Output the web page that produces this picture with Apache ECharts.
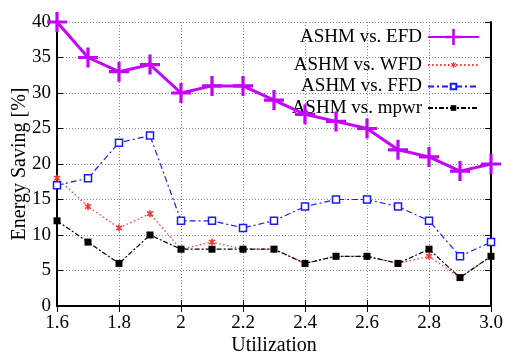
<!DOCTYPE html>
<html>
<head>
<meta charset="utf-8">
<script src="https://cdn.jsdelivr.net/npm/echarts@6/dist/echarts.min.js"></script>
<style>
  html, body { margin: 0; padding: 0; background: #fff; }
  #chart { width: 505px; height: 355px; }
</style>
</head>
<body>
<div id="chart"></div>
<script>
"use strict";

// data
const utilization = [1.6, 1.7, 1.8, 1.9, 2.0, 2.1, 2.2, 2.3, 2.4, 2.5, 2.6, 2.7, 2.8, 2.9, 3.0];
const efd  = [40, 35, 33, 34, 30, 31, 31, 29, 27, 26, 25, 22, 21, 19, 20];
const wfd  = [18, 14, 11, 13, 8, 9, 8, 8, 6, 7, 7, 6, 7, 4, 7];
const ffd  = [17, 18, 23, 24, 12, 12, 11, 12, 14, 15, 15, 14, 12, 7, 9];
const mpwr = [12, 9, 6, 10, 8, 8, 8, 8, 6, 7, 7, 6, 8, 4, 7];
const xTickLabels = ['1.6', '1.8', '2', '2.2', '2.4', '2.6', '2.8', '3.0'];
const seriesNames = ['ASHM vs. EFD', 'ASHM vs. WFD', 'ASHM vs. FFD', 'ASHM vs. mpwr'];

const FONT = '"Liberation Serif", "DejaVu Serif", serif';

let pairs = (ys) => utilization.map((x, i) => [x, ys[i]]);

const plusPath = 'path://M-1.6,-10 L1.6,-10 L1.6,-1.6 L10,-1.6 L10,1.6 L1.6,1.6 L1.6,10 L-1.6,10 L-1.6,1.6 L-10,1.6 L-10,-1.6 L-1.6,-1.6 Z';
const starPath = 'path://M-1,-5 L1,-5 L1,-2.4 L3.3,-3.7 L4.3,-2 L2,-0.7 L2,0.7 L4.3,2 L3.3,3.7 L1,2.4 L1,5 L-1,5 L-1,2.4 L-3.3,3.7 L-4.3,2 L-2,0.7 L-2,-0.7 L-4.3,-2 L-3.3,-3.7 L-1,-2.4 Z';

let gridLine = { show: true, lineStyle: { color: '#888', width: 1, type: [1, 2] } };

// one legend per series so each key symbol keeps its own size
const legendRowCenters = [37.5, 59, 80.5, 102];
const legendIconH = [20, 7, 7, 7];
let legends = seriesNames.map((nm, i) => ({
    orient: 'vertical',
    right: 25,
    top: legendRowCenters[i] - legendIconH[i] / 2,
    padding: 0,
    align: 'right',
    itemWidth: 51,
    itemHeight: legendIconH[i],
    textStyle: { fontFamily: FONT, fontSize: 19, color: '#000', padding: [0, 1, 0, 0] },
    data: [nm]
}));

let option = {
    animation: false,
    backgroundColor: '#fff',
    textStyle: { fontFamily: FONT },
    grid: { left: 57, right: 14, top: 22, bottom: 49, outerBoundsMode: 'none', containLabel: false },
    legend: legends,
    xAxis: [
        {
            type: 'value',
            min: 1.6,
            max: 3.0,
            interval: 0.2,
            name: 'Utilization',
            nameLocation: 'middle',
            nameGap: 30,
            nameMoveOverlap: false,
            nameTextStyle: { fontFamily: FONT, fontSize: 20, color: '#000' },
            axisLine: { show: true, lineStyle: { color: '#000', width: 2 } },
            axisTick: { show: true, inside: true, length: 6, lineStyle: { color: '#000', width: 1 } },
            axisLabel: {
                fontFamily: FONT, fontSize: 19, color: '#000', margin: 8,
                formatter: (v) => xTickLabels[Math.round((v - 1.6) / 0.2)] || ''
            },
            splitLine: gridLine
        },
        {
            type: 'value',
            position: 'top',
            min: 1.6,
            max: 3.0,
            interval: 0.2,
            axisLine: { show: true, lineStyle: { color: '#000', width: 2 } },
            axisTick: { show: true, inside: true, length: 6, lineStyle: { color: '#000', width: 1 } },
            axisLabel: { show: false },
            splitLine: { show: false }
        }
    ],
    yAxis: [
        {
            type: 'value',
            min: 0,
            max: 40,
            interval: 5,
            name: 'Energy Saving [%]',
            nameLocation: 'middle',
            nameGap: 27,
            nameMoveOverlap: false,
            nameTextStyle: { fontFamily: FONT, fontSize: 20, color: '#000' },
            axisLine: { show: true, lineStyle: { color: '#000', width: 2 } },
            axisTick: { show: true, inside: true, length: 6, lineStyle: { color: '#000', width: 1 } },
            axisLabel: { fontFamily: FONT, fontSize: 19, color: '#000', margin: 6 },
            splitLine: gridLine
        },
        {
            type: 'value',
            position: 'right',
            min: 0,
            max: 40,
            interval: 5,
            axisLine: { show: true, lineStyle: { color: '#000', width: 2 } },
            axisTick: { show: true, inside: true, length: 6, lineStyle: { color: '#000', width: 1 } },
            axisLabel: { show: false },
            splitLine: { show: false }
        }
    ],
    series: [
        {
            name: seriesNames[0],
            type: 'line',
            data: pairs(efd),
            symbol: plusPath,
            symbolSize: 20,
            z: 5,
            lineStyle: { color: '#c400ff', width: 3 },
            itemStyle: { color: '#c400ff' }
        },
        {
            name: seriesNames[1],
            type: 'line',
            data: pairs(wfd),
            symbol: starPath,
            symbolSize: 7,
            z: 2,
            lineStyle: { color: '#ff3030', width: 1.2, type: [1.5, 2.5] },
            itemStyle: { color: '#ff3030' }
        },
        {
            name: seriesNames[2],
            type: 'line',
            data: pairs(ffd),
            symbol: 'rect',
            symbolSize: 7,
            z: 3,
            lineStyle: { color: '#1a1aff', width: 1.2, type: [6, 3, 2, 3] },
            itemStyle: { color: '#fff', borderColor: '#1a1aff', borderWidth: 1.5 }
        },
        {
            name: seriesNames[3],
            type: 'line',
            data: pairs(mpwr),
            symbol: 'rect',
            symbolSize: 7,
            z: 4,
            lineStyle: { color: '#000', width: 1.2, type: [5, 2, 2, 2] },
            itemStyle: { color: '#000' }
        }
    ]
};

let myChart = echarts.init(document.getElementById('chart'), null, { renderer: 'canvas' });
myChart.setOption(option);
</script>
</body>
</html>
